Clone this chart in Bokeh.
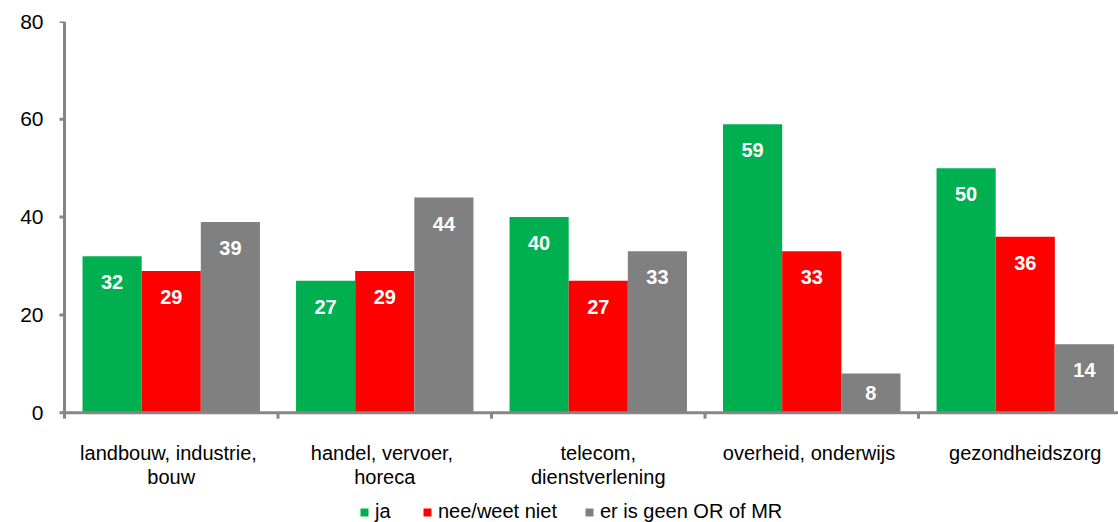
from bokeh.plotting import figure
from bokeh.models import ColumnDataSource, FixedTicker, Legend, LegendItem
from bokeh.core.properties import value
from bokeh.embed import file_html
from bokeh.resources import INLINE

categories = ["landbouw,  industrie,\nbouw", "handel,  vervoer,\nhoreca",
              "telecom,\ndienstverlening", "overheid,  onderwijs", "gezondheidszorg"]
series_names = ["ja", "nee/weet niet", "er is geen OR of MR"]
ja = [32, 27, 40, 59, 50]
nee = [29, 29, 27, 33, 36]
geen = [39, 44, 33, 8, 14]
y_ticks = [0, 20, 40, 60, 80]

colors = ["#00B050", "#FF0000", "#808080"]
axis_grey = "#868686"
font = "Liberation Sans"

W, H = 1118, 522
top = 21
left = 58                      # frame starts a little left of the value axis line
axis_px = 64                   # pixel column of the value axis
cat_px = 213.5                 # pixels per category slot
px_per_unit = 4.89             # pixels per percentage point
frame_w = W - left
frame_h = H - top
y_hi = 80
y_lo = y_hi - frame_h / px_per_unit
x_axis = -0.5
x_lo = x_axis - (axis_px - left) / cat_px
x_hi = x_lo + frame_w / cat_px
bar_w = 0.277
tick_len_x = 5 / cat_px
tick_len_y = 6 / px_per_unit

p = figure(frame_width=frame_w, frame_height=frame_h, output_backend="svg",
           toolbar_location=None, x_range=(x_lo, x_hi), y_range=(y_lo, y_hi),
           min_border_left=left, min_border_top=top, min_border_right=0,
           min_border_bottom=0)
p.outline_line_color = None
p.xgrid.visible = False
p.ygrid.visible = False
p.xaxis.visible = False
p.background_fill_color = "white"
p.border_fill_color = "white"

renderers = []
for k, (vals, col) in enumerate(zip([ja, nee, geen], colors)):
    xs = [i + (k - 1) * bar_w for i in range(len(vals))]
    src = ColumnDataSource(dict(
        x=xs, top=vals, lab=[str(v) for v in vals],
        off=[min(26.0, v * px_per_unit / 2) for v in vals]))
    r = p.vbar(x="x", top="top", bottom=0, width=bar_w, source=src,
               fill_color=col, line_color=None)
    renderers.append(r)
    p.text(x="x", y="top", text="lab", y_offset="off", source=src,
           text_color="white", text_font=value(font), text_font_style="bold",
           text_font_size="20px", text_align="center", text_baseline="middle")

# axis lines and tick marks
n = len(categories)
p.segment(x0=[x_axis], y0=[-tick_len_y], x1=[x_axis], y1=[y_hi],
          line_color=axis_grey, line_width=3)
p.segment(x0=[x_axis], y0=[0], x1=[x_hi], y1=[0],
          line_color=axis_grey, line_width=3)
bounds = [i + 0.5 for i in range(n)]
p.segment(x0=bounds, y0=[0] * n, x1=bounds, y1=[-tick_len_y] * n,
          line_color=axis_grey, line_width=3)
p.segment(x0=[x_axis - tick_len_x] * len(y_ticks), y0=y_ticks,
          x1=[x_axis] * len(y_ticks), y1=y_ticks,
          line_color=axis_grey, line_width=3)

# value axis labels
p.yaxis.ticker = FixedTicker(ticks=y_ticks)
p.yaxis.axis_line_color = None
p.yaxis.major_tick_line_color = None
p.yaxis.minor_tick_line_color = None
p.yaxis.major_tick_out = 0
p.yaxis.major_tick_in = 0
p.yaxis.major_label_text_font = font
p.yaxis.major_label_text_font_size = "21px"
p.yaxis.major_label_text_color = "black"
p.yaxis.major_label_standoff = 15

# category labels, one glyph per text line
lines1, lines2 = [], []
for c in categories:
    parts = c.split("\n")
    lines1.append(parts[0])
    lines2.append(parts[1] if len(parts) > 1 else "")
cat_x = list(range(n))
for txt, off in ((lines1, 40), (lines2, 64)):
    p.text(x=cat_x, y=[0] * n, text=txt, y_offset=off,
           text_color="black", text_font=value(font), text_font_size="20px",
           text_align="center", text_baseline="middle")

legend = Legend(items=[LegendItem(label=s, renderers=[r]) for s, r in zip(series_names, renderers)],
                orientation="horizontal", location=(301, -1),
                glyph_width=10, glyph_height=10, label_standoff=6, spacing=27,
                label_text_font=font, label_text_font_size="20px",
                label_text_color="black", border_line_color=None,
                background_fill_alpha=0, padding=0, margin=0)
p.add_layout(legend, "center")

open("out.html", "w").write(file_html(p, INLINE))
